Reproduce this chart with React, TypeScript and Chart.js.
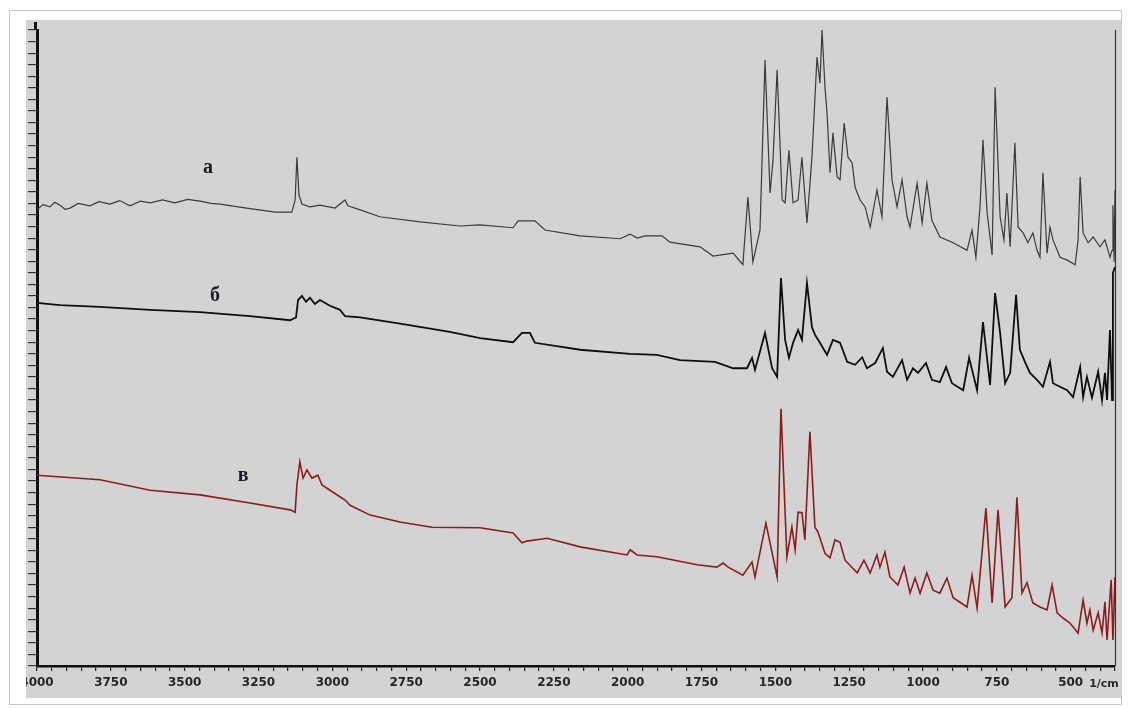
import React, { useEffect, useRef } from "react";
import { Chart, registerables } from "chart.js";

Chart.register(...registerables);

// Wavenumber axis (1/cm), reversed
const X_MIN = 350;
const X_MAX = 4000;
const X_LABEL_STEP = 250;
const X_MINOR_STEP = 50;
const Y_MIN = 0;
const Y_MAX = 110;
const Y_STEP = 2;

// Trace "a"
const aWn = [4000, 3980, 3956, 3940, 3922, 3905, 3888, 3860, 3821, 3790, 3753, 3720, 3685, 3650, 3617, 3575, 3533, 3490, 3448, 3410, 3380, 3330, 3279, 3235, 3194, 3137, 3126, 3120, 3113, 3103, 3076, 3042, 2991, 2957, 2947, 2906, 2839, 2703, 2568, 2500, 2388, 2371, 2314, 2280, 2161, 2026, 1992, 1968, 1941, 1884, 1857, 1755, 1711, 1643, 1610, 1593, 1576, 1552, 1535, 1518, 1508, 1494, 1477, 1467, 1454, 1440, 1423, 1410, 1393, 1376, 1359, 1349, 1342, 1332, 1325, 1315, 1305, 1291, 1281, 1267, 1254, 1240, 1230, 1213, 1196, 1179, 1156, 1139, 1122, 1105, 1088, 1071, 1054, 1044, 1020, 1003, 987, 970, 943, 898, 851, 834, 821, 807, 797, 783, 766, 756, 739, 726, 716, 705, 689, 678, 661, 645, 628, 614, 604, 594, 580, 570, 560, 536, 512, 485, 475, 468, 458, 441, 424, 401, 384, 367, 360, 357, 353, 350];
const aVal = [78.9, 79.8, 79.4, 80.2, 79.7, 79.0, 79.2, 80.0, 79.6, 80.3, 79.9, 80.5, 79.6, 80.4, 80.1, 80.6, 80.1, 80.7, 80.4, 80.0, 79.9, 79.5, 79.1, 78.8, 78.5, 78.5, 80.6, 88.0, 81.5, 79.9, 79.4, 79.7, 79.2, 80.6, 79.6, 78.9, 77.7, 76.8, 76.1, 76.3, 75.8, 77.0, 77.0, 75.4, 74.4, 73.9, 74.7, 74.0, 74.4, 74.4, 73.3, 72.5, 70.9, 71.4, 69.4, 81.1, 69.9, 75.4, 104.8, 81.8, 87.5, 103.1, 80.6, 80.1, 89.2, 80.1, 80.6, 88.0, 76.6, 88.0, 105.3, 100.8, 110.0, 100.1, 95.6, 85.3, 92.2, 84.6, 84.1, 93.9, 88.0, 87.0, 82.8, 80.6, 79.4, 75.9, 82.3, 77.7, 98.4, 84.1, 79.4, 84.1, 77.7, 75.9, 83.5, 76.6, 83.5, 77.1, 74.2, 73.2, 71.9, 75.4, 70.7, 79.4, 91.0, 78.4, 71.1, 100.1, 77.7, 73.7, 81.8, 72.5, 90.5, 75.9, 74.9, 73.2, 74.9, 71.9, 70.7, 85.3, 71.4, 75.9, 73.7, 70.7, 70.2, 69.4, 73.7, 84.6, 74.9, 73.2, 74.2, 72.5, 73.7, 70.7, 71.9, 79.7, 69.9, 82.3];

// Trace "б"
const bWn = [4000, 3922, 3787, 3617, 3448, 3279, 3143, 3123, 3116, 3103, 3089, 3076, 3059, 3042, 3008, 2974, 2957, 2906, 2771, 2602, 2500, 2388, 2358, 2331, 2314, 2161, 1992, 1901, 1823, 1704, 1643, 1596, 1579, 1569, 1535, 1511, 1494, 1481, 1467, 1454, 1440, 1423, 1410, 1393, 1376, 1366, 1349, 1325, 1305, 1281, 1257, 1230, 1206, 1190, 1162, 1136, 1122, 1102, 1071, 1054, 1034, 1017, 990, 970, 943, 922, 902, 864, 844, 817, 797, 773, 756, 739, 722, 705, 685, 672, 655, 638, 614, 594, 570, 560, 536, 512, 492, 468, 458, 445, 428, 407, 394, 384, 377, 367, 360, 357, 350];
const bVal = [62.8, 62.4, 62.1, 61.6, 61.2, 60.5, 59.8, 60.3, 63.3, 64.0, 63.0, 63.7, 62.6, 63.3, 62.3, 61.6, 60.5, 60.3, 59.2, 57.8, 56.7, 56.0, 57.6, 57.6, 55.9, 54.7, 54.0, 53.8, 52.9, 52.6, 51.5, 51.5, 53.3, 51.2, 57.6, 51.5, 50.0, 67.1, 56.4, 53.3, 55.9, 58.1, 56.4, 66.2, 58.6, 57.3, 55.9, 53.8, 56.4, 55.9, 52.6, 52.1, 53.4, 51.5, 52.4, 55.0, 50.9, 50.0, 52.9, 49.5, 51.5, 50.7, 52.4, 49.5, 49.1, 51.7, 48.9, 47.7, 53.3, 47.7, 59.5, 48.6, 64.5, 57.6, 48.9, 50.7, 64.2, 54.7, 52.6, 50.7, 49.5, 48.3, 52.6, 48.9, 48.3, 47.7, 46.5, 51.7, 46.5, 50.0, 46.4, 50.9, 46.0, 50.7, 46.0, 58.1, 46.0, 68.0, 69.0];

// Trace "в"
const vWn = [4000, 3787, 3617, 3448, 3279, 3143, 3126, 3120, 3110, 3099, 3086, 3069, 3049, 3035, 3008, 2957, 2940, 2872, 2771, 2663, 2500, 2388, 2358, 2341, 2273, 2161, 2002, 1992, 1968, 1901, 1765, 1698, 1677, 1660, 1610, 1579, 1569, 1532, 1494, 1481, 1461, 1444, 1433, 1423, 1410, 1400, 1383, 1366, 1356, 1332, 1315, 1298, 1281, 1264, 1223, 1200, 1179, 1156, 1146, 1129, 1112, 1085, 1064, 1044, 1027, 1010, 987, 966, 943, 919, 898, 851, 834, 817, 787, 766, 746, 722, 699, 682, 665, 648, 628, 604, 580, 563, 546, 526, 502, 475, 458, 445, 435, 424, 407, 394, 384, 377, 363, 357, 350];
const vVal = [33.0, 32.2, 30.4, 29.6, 28.2, 27.0, 26.6, 31.3, 35.3, 32.5, 33.9, 32.5, 33.0, 31.3, 30.4, 28.7, 27.8, 26.1, 24.9, 24.0, 23.9, 23.0, 21.3, 21.6, 22.1, 20.6, 19.2, 20.1, 19.2, 18.9, 17.5, 17.1, 17.8, 17.1, 15.7, 18.0, 15.4, 24.7, 15.4, 44.5, 18.9, 24.0, 20.1, 26.6, 26.5, 21.8, 40.5, 24.0, 23.2, 19.5, 18.7, 21.8, 21.4, 18.3, 16.1, 18.3, 16.1, 19.2, 17.1, 19.7, 15.4, 14.0, 17.1, 12.6, 15.2, 12.6, 16.1, 13.1, 12.6, 15.2, 11.8, 10.2, 15.7, 10.0, 27.3, 10.9, 27.0, 10.2, 11.8, 29.2, 12.6, 14.4, 10.9, 10.2, 9.7, 14.0, 9.2, 8.3, 7.4, 5.7, 11.4, 7.4, 9.7, 6.2, 9.2, 5.7, 11.1, 4.5, 14.9, 4.5, 15.4];

// Trace labels and their anchor (wavenumber, value)
const traceNames = ["a", "б", "в"];
const nameWn = [3421, 3397, 3302];
const nameVal = [86.1, 64.0, 32.9];

const UNIT_LABEL = "1/cm";

const toPoints = (wn: number[], val: number[]) =>
  wn.map((x, i) => ({ x, y: val[i] }));

const framePlugin = {
  id: "frame",
  beforeDraw(chart: any) {
    const { ctx, width, height } = chart;
    ctx.save();
    ctx.fillStyle = "#ffffff";
    ctx.fillRect(0, 0, width, height);
    ctx.strokeStyle = "#c8c8c8";
    ctx.lineWidth = 1;
    ctx.strokeRect(9.5, 10.5, 1112, 694);
    ctx.fillStyle = "#d3d3d3";
    ctx.fillRect(26, 20, 1095, 678);
    ctx.restore();
  },
  afterDraw(chart: any) {
    const { ctx, chartArea, scales } = chart;
    ctx.save();
    // cover label overflow left of the grey panel
    ctx.fillStyle = "#ffffff";
    ctx.fillRect(10, 660, 16, 40);
    // left axis runs up to the panel top
    ctx.strokeStyle = "#111";
    ctx.lineWidth = 3;
    ctx.beginPath();
    ctx.moveTo(chartArea.left - 1.5, chartArea.top);
    ctx.lineTo(chartArea.left - 1.5, chartArea.top - 8);
    ctx.stroke();
    // right axis line
    ctx.strokeStyle = "#333";
    ctx.lineWidth = 1.2;
    ctx.beginPath();
    ctx.moveTo(chartArea.right + 0.5, chartArea.top);
    ctx.lineTo(chartArea.right + 0.5, chartArea.bottom);
    ctx.stroke();
    // trace names
    ctx.fillStyle = "#1c1c28";
    ctx.font = "bold 20px 'Liberation Serif', 'DejaVu Serif', serif";
    ctx.textAlign = "center";
    ctx.textBaseline = "middle";
    traceNames.forEach((n, i) => {
      ctx.fillText(n, scales.x.getPixelForValue(nameWn[i]), scales.y.getPixelForValue(nameVal[i]));
    });
    // unit label
    ctx.fillStyle = "#2a2a2a";
    ctx.font = "bold 11px 'DejaVu Sans', sans-serif";
    ctx.fillText(UNIT_LABEL, chartArea.right - 11, chartArea.bottom + 18);
    ctx.restore();
  },
};

export default function App() {
  const ref = useRef<HTMLCanvasElement | null>(null);
  useEffect(() => {
    if (!ref.current) return;
    const chart = new Chart(ref.current, {
      type: "line",
      data: {
        datasets: [
          { label: traceNames[0], data: toPoints(aWn, aVal), borderColor: "#3a3a3a", borderWidth: 1.2 },
          { label: traceNames[1], data: toPoints(bWn, bVal), borderColor: "#0e0e0e", borderWidth: 1.8 },
          { label: traceNames[2], data: toPoints(vWn, vVal), borderColor: "#8c1c1c", borderWidth: 1.6 },
        ],
      },
      options: {
        animation: false,
        responsive: true,
        maintainAspectRatio: false,
        parsing: false as any,
        elements: { point: { radius: 0 }, line: { tension: 0 } },
        layout: { padding: { left: 27, right: 13, top: 30, bottom: 0 } },
        plugins: { legend: { display: false }, tooltip: { enabled: false } },
        scales: {
          x: {
            type: "linear",
            reverse: true,
            min: X_MIN,
            max: X_MAX,
            afterFit: (s: any) => { s.height = 43; },
            ticks: {
              stepSize: X_MINOR_STEP,
              autoSkip: false,
              maxRotation: 0,
              padding: 5,
              color: "#262626",
              font: { family: "'DejaVu Sans', sans-serif", size: 12, weight: "bold" },
              callback: (v: any) => (Number(v) % X_LABEL_STEP === 0 ? String(v) : ""),
            },
            grid: { drawOnChartArea: false, drawTicks: true, tickLength: 5, color: "#222", lineWidth: 1.2 },
            border: { display: true, color: "#111", width: 2.5 },
          },
          y: {
            type: "linear",
            min: Y_MIN,
            max: Y_MAX,
            afterFit: (s: any) => { s.width = 10; },
            ticks: { display: false, stepSize: Y_STEP },
            grid: { drawOnChartArea: false, drawTicks: true, tickLength: 9, color: "#333", lineWidth: 1.2 },
            border: { display: true, color: "#111", width: 3 },
          },
        },
      },
      plugins: [framePlugin],
    });
    return () => chart.destroy();
  }, []);
  return (
    <div style={{ position: "fixed", left: 0, top: 0, width: 1128, height: 709 }}>
      <canvas ref={ref} />
    </div>
  );
}
